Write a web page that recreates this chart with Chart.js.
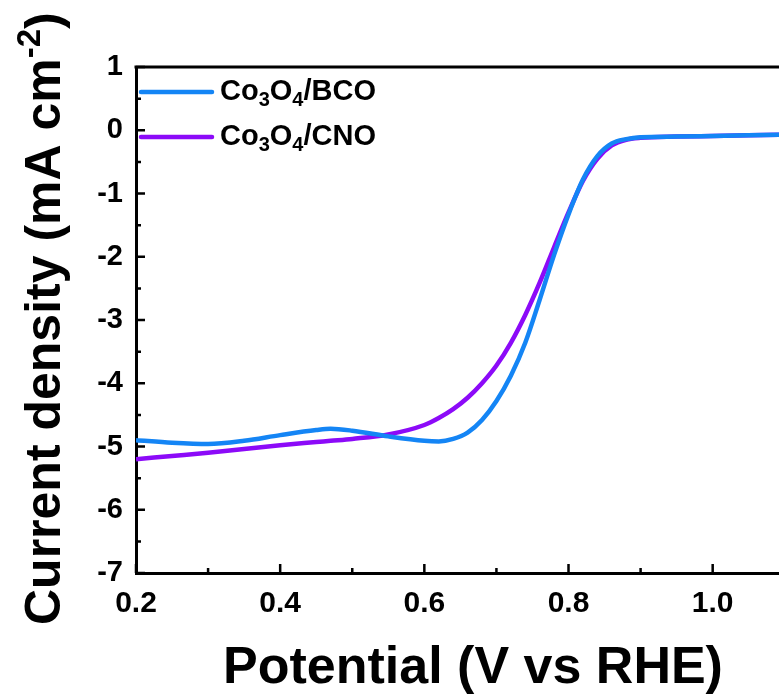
<!DOCTYPE html>
<html>
<head>
<meta charset="utf-8">
<script src="https://cdn.jsdelivr.net/npm/chart.js@4"></script>
<style>
  html, body { margin: 0; padding: 0; background: #fff; }
  #wrap { width: 779px; height: 695px; }
</style>
</head>
<body>
<div id="wrap"><canvas id="lsvChart" width="779" height="695"></canvas></div>
<script>
// potential (V vs RHE) and current density (mA cm-2)
const potential = [0.20, 0.25, 0.30, 0.35, 0.40, 0.45, 0.47, 0.50, 0.55, 0.60, 0.62, 0.64, 0.66, 0.68, 0.70,
    0.72, 0.74, 0.76, 0.78, 0.80, 0.82, 0.84, 0.86, 0.88, 0.90, 0.95, 1.00, 1.05, 1.10];
const currentBCO = [-4.90, -4.94, -4.96, -4.91, -4.82, -4.74, -4.72, -4.75, -4.84, -4.91, -4.92, -4.88, -4.78, -4.58, -4.28,
    -3.88, -3.36, -2.68, -1.97, -1.33, -0.78, -0.41, -0.21, -0.14, -0.11, -0.10, -0.09, -0.08, -0.07];
const currentCNO = [-5.20, -5.15, -5.10, -5.04, -4.98, -4.93, -4.91, -4.88, -4.81, -4.66, -4.55, -4.41, -4.23, -4.00, -3.72,
    -3.36, -2.92, -2.41, -1.85, -1.30, -0.80, -0.45, -0.24, -0.15, -0.12, -0.10, -0.09, -0.08, -0.07];
const seriesLabels = ['Co3O4/BCO', 'Co3O4/CNO'];
const seriesColors = ['#1485f5', '#8c0af8'];
const xTicks = [0.2, 0.4, 0.6, 0.8, 1.0];
const yTicks = [-7, -6, -5, -4, -3, -2, -1, 0, 1];

const FONT = '"Liberation Sans", Arial, sans-serif';

function toPoints(ys) {
    return potential.map((x, i) => ({ x: x, y: ys[i] }));
}

// draws text where digits after a letter are subscripts (Co3O4 -> Co₃O₄)
function drawChemText(ctx, text, x, y, size) {
    let cx = x;
    for (let i = 0; i < text.length; i++) {
        const ch = text[i];
        const sub = /[0-9]/.test(ch) && i > 0 && /[A-Za-z]/.test(text[i - 1]);
        ctx.font = 'bold ' + (sub ? Math.round(size * 0.68) : size) + 'px ' + FONT;
        ctx.fillText(ch, cx, sub ? y + size * 0.3 : y);
        cx += ctx.measureText(ch).width;
    }
}

const framePlugin = {
    id: 'frame',
    afterDraw(chart) {
        const ctx = chart.ctx;
        const area = chart.chartArea;
        const xs = chart.scales.x;
        const ys = chart.scales.y;
        ctx.save();
        ctx.strokeStyle = '#000';

        // top border
        ctx.lineWidth = 3;
        ctx.beginPath();
        ctx.moveTo(area.left - 1.5, area.top);
        ctx.lineTo(area.right, area.top);
        ctx.stroke();

        // inward ticks
        ctx.lineWidth = 2.5;
        ctx.beginPath();
        xTicks.forEach(v => {
            const px = xs.getPixelForValue(v);
            ctx.moveTo(px, area.bottom);
            ctx.lineTo(px, area.bottom - 9);
            const pm = xs.getPixelForValue(v + 0.1);
            if (pm < area.right) {
                ctx.moveTo(pm, area.bottom);
                ctx.lineTo(pm, area.bottom - 5);
            }
        });
        yTicks.forEach(v => {
            const py = ys.getPixelForValue(v);
            ctx.moveTo(area.left, py);
            ctx.lineTo(area.left + 9, py);
            if (v < 1) {
                const pm = ys.getPixelForValue(v + 0.5);
                ctx.moveTo(area.left, pm);
                ctx.lineTo(area.left + 5, pm);
            }
        });
        ctx.stroke();

        // legend
        chart.data.datasets.forEach((ds, i) => {
            const ly = area.top + 25 + i * 45;
            ctx.strokeStyle = ds.borderColor;
            ctx.lineWidth = 4.5;
            ctx.lineCap = 'round';
            ctx.beginPath();
            ctx.moveTo(area.left + 5, ly);
            ctx.lineTo(area.left + 76, ly);
            ctx.stroke();
            ctx.fillStyle = '#000';
            ctx.textBaseline = 'middle';
            ctx.textAlign = 'left';
            drawChemText(ctx, ds.label, area.left + 84, ly, 29);
        });

        // axis titles
        ctx.fillStyle = '#000';
        ctx.textBaseline = 'alphabetic';
        ctx.textAlign = 'center';
        ctx.font = 'bold 52px ' + FONT;
        ctx.fillText('Potential (V vs RHE)', 473, 683);

        ctx.translate(60, 625);
        ctx.rotate(-Math.PI / 2);
        ctx.textAlign = 'left';
        ctx.font = 'bold 50px ' + FONT;
        const main = 'Current density (mA cm';
        ctx.fillText(main, 0, 0);
        let w = ctx.measureText(main).width;
        ctx.font = 'bold 33px ' + FONT;
        ctx.fillText('-2', w, -20);
        w += ctx.measureText('-2').width;
        ctx.font = 'bold 50px ' + FONT;
        ctx.fillText(')', w, 0);
        ctx.restore();
    }
};

function renderChart() {
    const ctx = document.getElementById('lsvChart').getContext('2d');

    new Chart(ctx, {
        type: 'scatter',
        data: {
            datasets: [
                {
                    label: seriesLabels[0],
                    data: toPoints(currentBCO),
                    borderColor: seriesColors[0],
                    backgroundColor: seriesColors[0],
                    borderWidth: 4.5,
                    showLine: true,
                    pointRadius: 0,
                    cubicInterpolationMode: 'monotone'
                },
                {
                    label: seriesLabels[1],
                    data: toPoints(currentCNO),
                    borderColor: seriesColors[1],
                    backgroundColor: seriesColors[1],
                    borderWidth: 4.5,
                    showLine: true,
                    pointRadius: 0,
                    cubicInterpolationMode: 'monotone'
                }
            ]
        },
        options: {
            responsive: false,
            animation: false,
            layout: { padding: { top: 67, right: 0, left: 0, bottom: 0 } },
            plugins: {
                legend: { display: false },
                tooltip: { enabled: false }
            },
            scales: {
                x: {
                    type: 'linear',
                    min: 0.2,
                    max: 1.092,
                    afterFit: s => { s.height = 122; },
                    afterBuildTicks: s => { s.ticks = xTicks.map(v => ({ value: v })); },
                    grid: { display: false, drawTicks: false },
                    border: { display: true, color: '#000', width: 3 },
                    ticks: {
                        color: '#000',
                        padding: 13,
                        maxRotation: 0,
                        font: { family: FONT, size: 30, weight: 'bold' },
                        callback: v => v.toFixed(1)
                    }
                },
                y: {
                    type: 'linear',
                    min: -7,
                    max: 1,
                    afterFit: s => { s.width = 136; },
                    afterBuildTicks: s => { s.ticks = yTicks.map(v => ({ value: v })); },
                    grid: { display: false, drawTicks: false },
                    border: { display: true, color: '#000', width: 3 },
                    ticks: {
                        color: '#000',
                        padding: 13,
                        font: { family: FONT, size: 29, weight: 'bold' },
                        callback: v => String(v)
                    }
                }
            }
        },
        plugins: [framePlugin]
    });
}

document.addEventListener('DOMContentLoaded', renderChart);
</script>
</body>
</html>
